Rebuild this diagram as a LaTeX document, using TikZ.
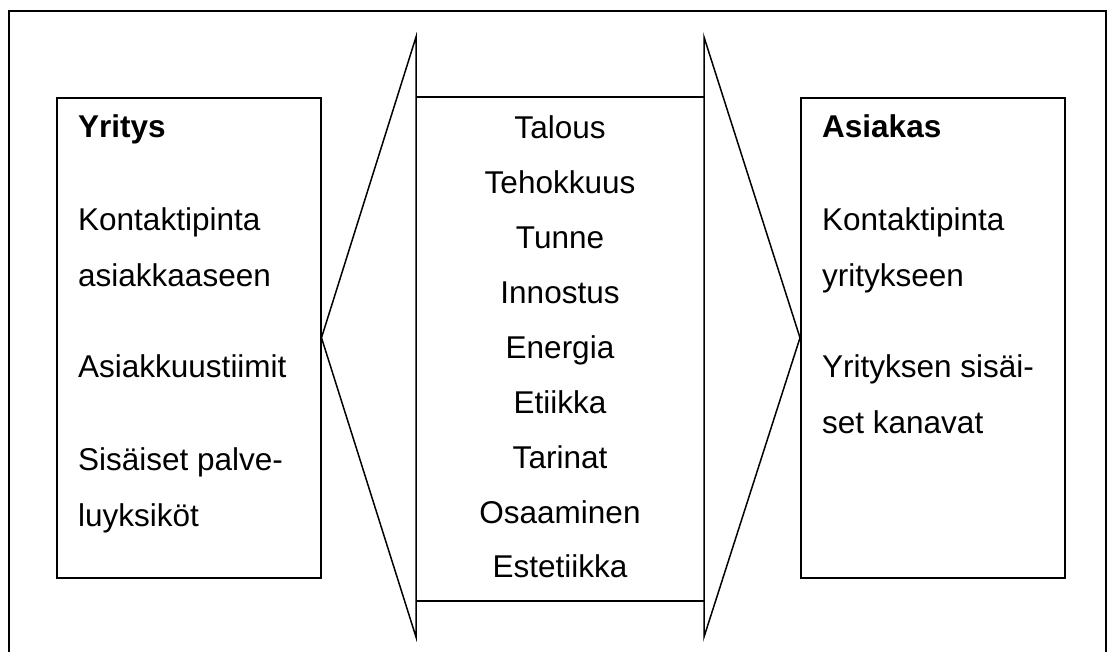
\documentclass[tikz,border=0pt]{standalone}
\usepackage{fontspec}
\setmainfont{Liberation Sans}
\begin{document}
\begin{tikzpicture}[x=1pt,y=-1pt,
  shape line/.style={line width=1.5pt, line join=miter},
  frameline/.style={line width=1.4pt},
  boxstyle/.style={draw, line width=1.5pt, inner sep=0pt, minimum width=264pt, minimum height=480pt, anchor=north west},
  txt/.style={inner sep=0pt, font=\fontsize{31.5}{38}\selectfont},
  ltxt/.style={txt, anchor=base west},
  ctxt/.style={txt, anchor=base}]
\useasboundingbox (0,0) rectangle (1116,651);
\fill[white] (0,0) rectangle (1116,651);
% outer frame (open below the page edge)
\coordinate (fbl) at (9,655);
\coordinate (ftl) at (9,11);
\coordinate (ftr) at (1106,11);
\coordinate (fbr) at (1106,655);
\draw[frameline] (fbl) -- (ftl) -- (ftr) -- (fbr);
% side boxes
\node[boxstyle] (left) at (56,97) {};
\node[boxstyle] (right) at (800,97) {};
% triangles
\coordinate (ltop) at (416,37);
\coordinate (lbot) at (416,637);
\coordinate (rtop) at (704,37);
\coordinate (rbot) at (704,637);
\draw[shape line] (ltop) -- (left.east) -- (lbot) -- cycle;
\draw[shape line] (rtop) -- (right.west) -- (rbot) -- cycle;
% centre band
\coordinate (ctl) at (416,97);
\coordinate (ctr) at (704,97);
\coordinate (cbl) at (416,601);
\coordinate (cbr) at (704,601);
\draw[shape line] (ctl) -- (ctr);
\draw[shape line] (cbl) -- (cbr);
% left texts
\node[ltxt] (l1) at (78,137) {\textbf{Yritys}};
\node[ltxt] (l2) at (78,230) {Kontaktipinta};
\node[ltxt] (l3) at (78,286) {asiakkaaseen};
\node[ltxt] (l4) at (78,377) {Asiakkuustiimit};
\node[ltxt] (l5) at (78,470) {Sisäiset palve-};
\node[ltxt] (l6) at (78,526) {luyksiköt};
% right texts
\node[ltxt] (r1) at (822,137) {\textbf{Asiakas}};
\node[ltxt] (r2) at (822,230) {Kontaktipinta};
\node[ltxt] (r3) at (822,286) {yritykseen};
\node[ltxt] (r4) at (822,377) {Yrityksen sisäi-};
\node[ltxt] (r5) at (822,433) {set kanavat};
% centre texts
\node[ctxt] (c1) at (560,138) {Talous};
\node[ctxt] (c2) at (560,193) {Tehokkuus};
\node[ctxt] (c3) at (560,248) {Tunne};
\node[ctxt] (c4) at (560,303) {Innostus};
\node[ctxt] (c5) at (560,358) {Energia};
\node[ctxt] (c6) at (560,413) {Etiikka};
\node[ctxt] (c7) at (560,468) {Tarinat};
\node[ctxt] (c8) at (560,523) {Osaaminen};
\node[ctxt] (c9) at (560,577) {Estetiikka};
\end{tikzpicture}
\end{document}
